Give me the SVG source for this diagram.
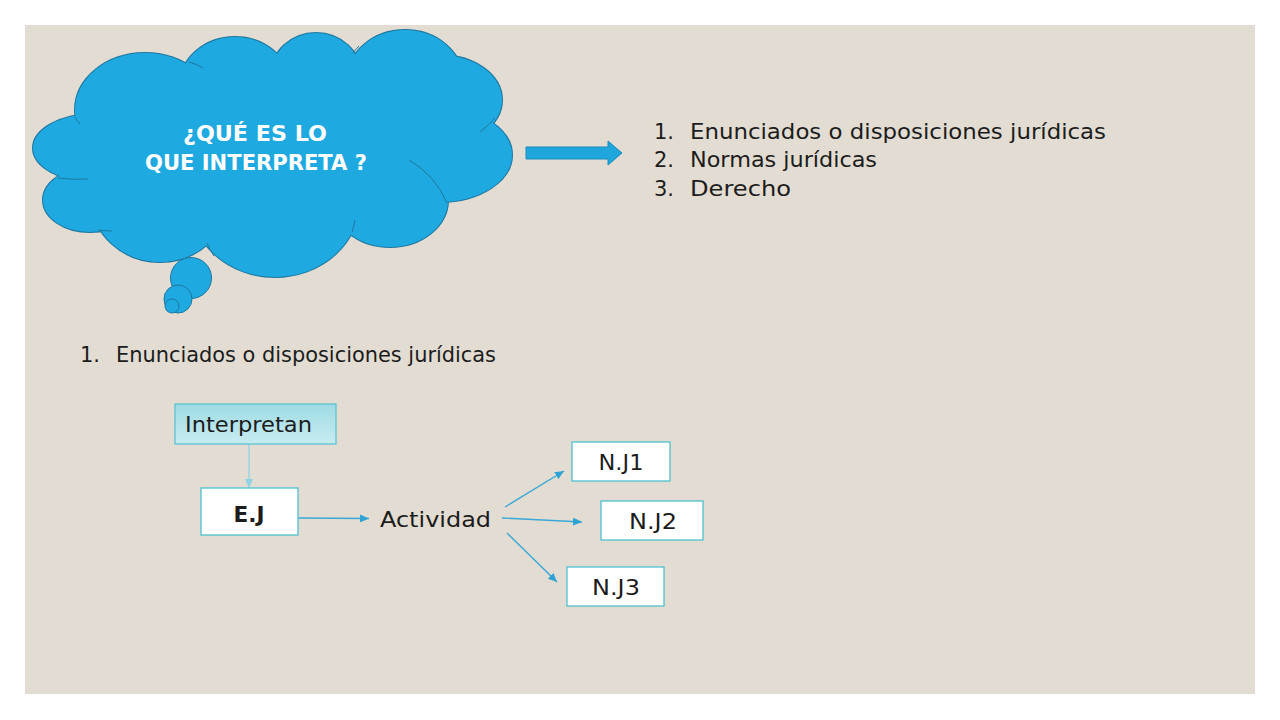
<svg xmlns="http://www.w3.org/2000/svg" width="1280" height="720" viewBox="0 0 1280 720">
  <style>
    .txt { font-family: "DejaVu Sans", "Liberation Sans", sans-serif; fill: #1c1c1c; }
    .cloudfill { fill: #1fa9e1; }
    .cloudstroke { fill: #1fa9e1; stroke: #1d77a0; stroke-width: 2; }
    .inner { fill: none; stroke: #1d77a0; stroke-width: 1; }
    .box { fill: #ffffff; stroke: #4fc0d0; stroke-width: 1.3; }
    .conn { stroke: #3aa9d8; stroke-width: 1.4; fill: none; }
  </style>
  <defs>
    <linearGradient id="gInt" x1="0" y1="0" x2="0" y2="1">
      <stop offset="0" stop-color="#9fdbe4"/>
      <stop offset="1" stop-color="#c8ecf0"/>
    </linearGradient>
    <marker id="ah" markerUnits="userSpaceOnUse" markerWidth="10" markerHeight="8" refX="9" refY="4" orient="auto">
      <path d="M0,0 L9,4 L0,8 z" fill="#2ea3d4"/>
    </marker>
    <marker id="ahl" markerUnits="userSpaceOnUse" markerWidth="10" markerHeight="8" refX="9" refY="4" orient="auto">
      <path d="M0,0 L9,4 L0,8 z" fill="#8fd3e6"/>
    </marker>
  </defs>

  <rect x="0" y="0" width="1280" height="720" fill="#ffffff"/>
  <rect x="25" y="25" width="1230" height="669" fill="#e2dcd2"/>

  <g id="cloud">
    <g class="cloudstroke">
      <ellipse cx="95" cy="148" rx="62" ry="34"/>
      <ellipse cx="90" cy="200" rx="47" ry="32"/>
      <ellipse cx="145" cy="110" rx="70" ry="57"/>
      <ellipse cx="235" cy="85" rx="55" ry="48"/>
      <ellipse cx="316" cy="75" rx="45" ry="42"/>
      <ellipse cx="405" cy="80" rx="58" ry="50"/>
      <ellipse cx="440" cy="100" rx="62" ry="45"/>
      <ellipse cx="440" cy="155" rx="72" ry="47"/>
      <ellipse cx="390" cy="200" rx="58" ry="47"/>
      <ellipse cx="275" cy="200" rx="85" ry="77"/>
      <ellipse cx="160" cy="200" rx="68" ry="62"/>
      <ellipse cx="270" cy="150" rx="170" ry="80"/>
    </g>
    <g class="cloudfill">
      <ellipse cx="95" cy="148" rx="62" ry="34"/>
      <ellipse cx="90" cy="200" rx="47" ry="32"/>
      <ellipse cx="145" cy="110" rx="70" ry="57"/>
      <ellipse cx="235" cy="85" rx="55" ry="48"/>
      <ellipse cx="316" cy="75" rx="45" ry="42"/>
      <ellipse cx="405" cy="80" rx="58" ry="50"/>
      <ellipse cx="440" cy="100" rx="62" ry="45"/>
      <ellipse cx="440" cy="155" rx="72" ry="47"/>
      <ellipse cx="390" cy="200" rx="58" ry="47"/>
      <ellipse cx="275" cy="200" rx="85" ry="77"/>
      <ellipse cx="160" cy="200" rx="68" ry="62"/>
      <ellipse cx="270" cy="150" rx="170" ry="80"/>
    </g>
    <path class="inner" d="M189,62 Q197,64 203,68"/>
    <path class="inner" d="M75,117 Q77,121 80,124"/>
    <path class="inner" d="M58,178 Q72,180 88,179"/>
    <path class="inner" d="M98,230 Q105,231 112,231"/>
    <path class="inner" d="M207,243 Q210,250 214,256"/>
    <path class="inner" d="M352,232 Q354,226 355,220"/>
    <path class="inner" d="M409,160 Q435,175 447,203"/>
    <path class="inner" d="M480,132 Q488,126 495,118"/>
    <path class="inner" d="M353,53 Q356,49 359,46"/>
    <path class="inner" d="M278,52 Q281,47 285,44"/>
    <circle cx="191" cy="278" r="20.5" fill="#1fa9e1" stroke="#1d77a0" stroke-width="1"/>
    <circle cx="178" cy="299" r="14" fill="#1fa9e1" stroke="#1d77a0" stroke-width="1"/>
    <circle cx="172" cy="306" r="7" fill="#1fa9e1" stroke="#1d77a0" stroke-width="1"/>
    <text x="255" y="141" text-anchor="middle" font-family="DejaVu Sans, Liberation Sans, sans-serif" font-weight="bold" font-size="21" fill="#ffffff" textLength="144" lengthAdjust="spacingAndGlyphs">¿QUÉ ES LO</text>
    <text x="256" y="170" text-anchor="middle" font-family="DejaVu Sans, Liberation Sans, sans-serif" font-weight="bold" font-size="21" fill="#ffffff" textLength="222" lengthAdjust="spacingAndGlyphs">QUE INTERPRETA ?</text>
  </g>

  <g id="block-arrow">
    <polygon points="526,147 608,147 608,141 622,153 608,165 608,159 526,159" fill="#1fa7dd" stroke="#1a8cbd" stroke-width="1"/>
  </g>

  <g id="list-top">
    <text class="txt" x="654" y="139" font-size="21">1.</text>
    <text class="txt" x="690" y="139" font-size="21" textLength="416" lengthAdjust="spacingAndGlyphs">Enunciados o disposiciones jurídicas</text>
    <text class="txt" x="654" y="167" font-size="21">2.</text>
    <text class="txt" x="690" y="167" font-size="21" textLength="187" lengthAdjust="spacingAndGlyphs">Normas jurídicas</text>
    <text class="txt" x="654" y="196" font-size="21">3.</text>
    <text class="txt" x="690" y="196" font-size="21" textLength="101" lengthAdjust="spacingAndGlyphs">Derecho</text>
  </g>

  <g id="list-bottom">
    <text class="txt" x="80" y="362" font-size="21">1.</text>
    <text class="txt" x="116" y="362" font-size="21" textLength="380" lengthAdjust="spacingAndGlyphs">Enunciados o disposiciones jurídicas</text>
  </g>

  <g id="connectors">
    <line x1="249" y1="444" x2="249" y2="488" stroke="#93d4e6" stroke-width="1.4" marker-end="url(#ahl)"/>
    <line class="conn" x1="298" y1="518" x2="369" y2="518.5" marker-end="url(#ah)"/>
    <line class="conn" x1="505" y1="507" x2="564" y2="471" marker-end="url(#ah)"/>
    <line class="conn" x1="502" y1="518" x2="582" y2="522" marker-end="url(#ah)"/>
    <line class="conn" x1="507" y1="533" x2="557" y2="582" marker-end="url(#ah)"/>
  </g>

  <g id="node-interpretan">
    <rect x="175" y="404" width="161" height="40" fill="url(#gInt)" stroke="#5cc3d3" stroke-width="1.3"/>
    <text class="txt" x="185" y="432" font-size="21" textLength="127" lengthAdjust="spacingAndGlyphs">Interpretan</text>
  </g>

  <g id="node-ej">
    <rect class="box" x="201" y="488" width="97" height="47"/>
    <text class="txt" x="249" y="522" font-size="21" font-weight="bold" text-anchor="middle" textLength="31" lengthAdjust="spacingAndGlyphs">E.J</text>
  </g>

  <g id="node-actividad">
    <text class="txt" x="380" y="527" font-size="21" textLength="111" lengthAdjust="spacingAndGlyphs">Actividad</text>
  </g>

  <g id="node-nj1">
    <rect class="box" x="572" y="442" width="98" height="39"/>
    <text class="txt" x="621" y="470" font-size="21" text-anchor="middle" textLength="45" lengthAdjust="spacingAndGlyphs">N.J1</text>
  </g>

  <g id="node-nj2">
    <rect class="box" x="601" y="501" width="102" height="39"/>
    <text class="txt" x="653" y="529" font-size="21" text-anchor="middle" textLength="48" lengthAdjust="spacingAndGlyphs">N.J2</text>
  </g>

  <g id="node-nj3">
    <rect class="box" x="567" y="567" width="97" height="39"/>
    <text class="txt" x="616" y="595" font-size="21" text-anchor="middle" textLength="48" lengthAdjust="spacingAndGlyphs">N.J3</text>
  </g>
</svg>
